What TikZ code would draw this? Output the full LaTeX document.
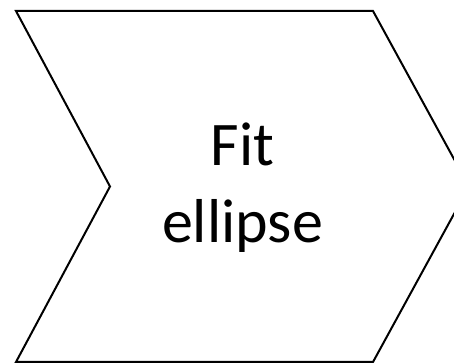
\documentclass[tikz,border=0pt]{standalone}
\usepackage{fontspec}
\setmainfont{Carlito}
\begin{document}
\begin{tikzpicture}[x=1pt,y=1pt,
  chevron/.style={draw=black,line width=2pt,line join=miter,fill=white},
  label/.style={align=center,font=\fontsize{62}{77}\selectfont,inner sep=0pt}]
\useasboundingbox (0,0) rectangle (454,363);
\clip (0,0) rectangle (454,363);
\draw[chevron] (16,352) -- (373,352) -- (469,176.5) -- (373,1) -- (16,1) -- (110,176.5) -- cycle;
\node[label] (txt) at (242.5,175) {Fit\\ellipse};
\end{tikzpicture}
\end{document}
